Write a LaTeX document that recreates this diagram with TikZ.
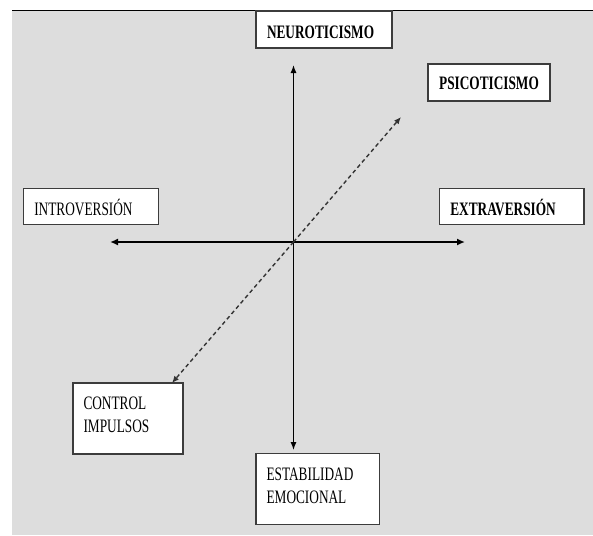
\documentclass[tikz,border=0pt]{standalone}
\usepackage{fontspec}
\setmainfont{Liberation Serif}
\newfontfamily\condfont[FakeStretch=0.70]{Liberation Serif}
\usetikzlibrary{arrows.meta}
\definecolor{bggray}{RGB}{221,221,221}
\definecolor{boxline}{RGB}{60,60,60}
\tikzset{
  labelbox/.style={draw=boxline, line width=1.2pt, fill=white, inner ysep=0pt,
    inner xsep=11pt, font=\condfont\fontsize{19}{23}\selectfont, align=left,
    text height=17.6pt, text depth=0pt},
  twoline/.style={labelbox, inner xsep=10.5pt, text height=12pt},
  axisline/.style={line width=1.6pt, -{Latex[length=8pt,width=7pt]}},
  vaxis/.style={line width=1.1pt, -{Latex[length=8pt,width=6pt]}},
  diag/.style={line width=1.4pt, draw=black!80, dash pattern=on 4pt off 3pt,
    -{Latex[length=7pt,width=6pt]}}
}
\begin{document}
\begin{tikzpicture}[x=1pt,y=-1pt]
\useasboundingbox (0,0) rectangle (593,535);
\fill[bggray] (12,10.5) rectangle (593,535);
\draw[line width=1.2pt] (12,10.5) -- (593,10.5);

\node[labelbox, minimum width=136pt, minimum height=37pt, text width=114pt] (neuro) at (324,29.5) {\bfseries NEUROTICISMO};
\node[labelbox, minimum width=122pt, minimum height=37pt, text width=100pt, align=center, text height=14.2pt] (psico) at (489,82.5) {\bfseries PSICOTICISMO};
\node[labelbox, minimum width=135pt, minimum height=36pt, text width=113pt] (intro) at (90.8,206.3) {INTROVERSIÓN};
\node[labelbox, minimum width=144.7pt, minimum height=36pt, text width=122.7pt] (extra) at (511.7,206.3) {\bfseries EXTRAVERSIÓN};
\node[twoline, minimum width=110pt, minimum height=71pt, text width=89pt, text depth=29.8pt] (control) at (128,418.5) {CONTROL\\IMPULSOS};
\node[twoline, minimum width=123.3pt, minimum height=71pt, text width=102.3pt, text depth=28.6pt, font=\condfont\fontsize{19}{22.5}\selectfont] (estab) at (317.7,488.8) {ESTABILIDAD\\EMOCIONAL};

\coordinate (o) at (293.5,242);
\coordinate (ntip) at (293.5,65);
\coordinate (stip) at (293.5,450);
\coordinate (wtip) at (110,242);
\coordinate (etip) at (465,242);
\coordinate (netip) at (401,117);
\coordinate (swtip) at (172,383);

\draw[vaxis] (o) -- (ntip);
\draw[vaxis] (o) -- (stip);
\draw[axisline] (o) -- (wtip);
\draw[axisline] (o) -- (etip);
\draw[diag] (o) -- (netip);
\draw[diag] (o) -- (swtip);
\end{tikzpicture}
\end{document}
